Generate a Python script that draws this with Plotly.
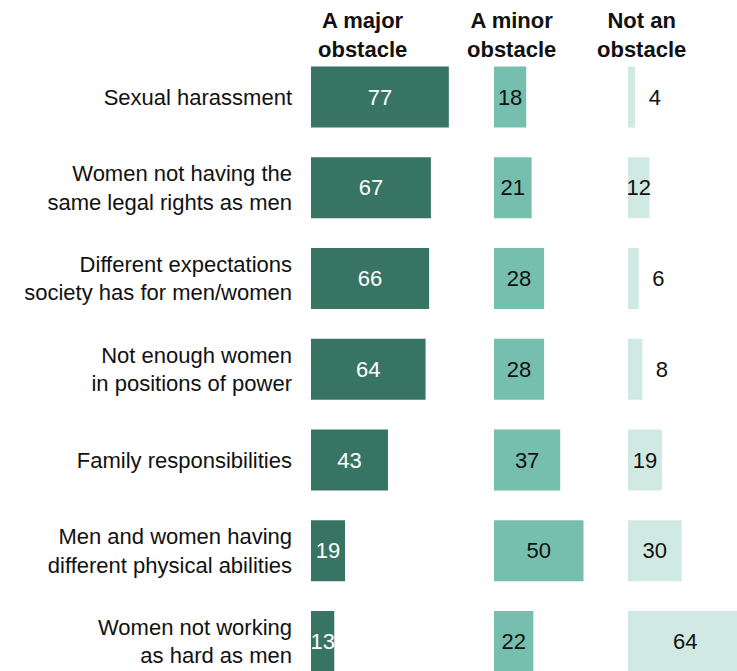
import plotly.graph_objects as go

# ── data ───────────────────────────────────────────────
categories = [
    "Sexual harassment",
    "Women not having the<br>same legal rights as men",
    "Different expectations<br>society has for men/women",
    "Not enough women<br>in positions of power",
    "Family responsibilities",
    "Men and women having<br>different physical abilities",
    "Women not working<br>as hard as men",
]
major = [77, 67, 66, 64, 43, 19, 13]
minor = [18, 21, 28, 28, 37, 50, 22]
not_obstacle = [4, 12, 6, 8, 19, 30, 64]
headers = ["A major<br>obstacle", "A minor<br>obstacle", "Not an<br>obstacle"]

# ── style ──────────────────────────────────────────────
W, H = 737, 671
FONT = "Liberation Sans, Arial, sans-serif"
PX_PER_UNIT = 1.79
col_start = [311, 494, 628]          # px where each column's bars start
col_end = [494, 628, 737]
colors = ["#387464", "#76bfae", "#d1e9e3"]
text_colors = ["white", "#111111", "#111111"]
header_x = [362, 512, 641]

fig = go.Figure()

series = [major, minor, not_obstacle]
for i, vals in enumerate(series):
    axis = "x" if i == 0 else f"x{i + 1}"
    positions = ["outside" if v < 10 else "inside" for v in vals]
    texts = [f"\u00a0\u2009{v}" if v < 10 else str(v) for v in vals]
    fig.add_trace(go.Bar(
        x=vals,
        y=categories,
        orientation="h",
        xaxis=axis,
        yaxis="y",
        marker=dict(color=colors[i], line=dict(width=0)),
        text=texts,
        textposition=positions,
        insidetextanchor="middle",
        constraintext="none",
        textfont=dict(family=FONT, size=22, color=text_colors[i]),
        outsidetextfont=dict(family=FONT, size=22, color="#111111"),
        hoverinfo="skip",
        showlegend=False,
    ))

# vertical placement: row 0 centred at y=97px, rows 90.75px apart
row0, step = 97, 90.75
y_top = -row0 / step
y_bottom = (H - row0) / step

axis_common = dict(showgrid=False, zeroline=False, showticklabels=False,
                   showline=False, ticks="", fixedrange=True)
for i in range(3):
    key = "xaxis" if i == 0 else f"xaxis{i + 1}"
    fig.layout[key] = dict(
        axis_common,
        domain=[col_start[i] / W, col_end[i] / W],
        range=[0, (col_end[i] - col_start[i]) / PX_PER_UNIT],
        anchor="y",
    )

fig.update_layout(
    width=W,
    height=H,
    margin=dict(l=0, r=0, t=0, b=0),
    paper_bgcolor="white",
    plot_bgcolor="white",
    bargap=0.328,
    yaxis=dict(
        type="category",
        categoryorder="array",
        categoryarray=categories,
        range=[y_bottom, y_top],
        showgrid=False,
        zeroline=False,
        showline=False,
        ticks="",
        automargin=False,
        ticklabelstandoff=18,
        tickfont=dict(family=FONT, size=22, color="#111111"),
        anchor="x",
        fixedrange=True,
    ),
)

for i, h in enumerate(headers):
    fig.add_annotation(
        x=header_x[i] / W, y=1 - 35 / H,
        xref="paper", yref="paper",
        text=f"<b>{h}</b>",
        showarrow=False,
        xanchor="center", yanchor="middle",
        align="center",
        font=dict(family=FONT, size=22, color="#111111"),
    )

# page body margin off so the figure sits in the window's corner
fig.write_html(
    "out.html",
    config={"displayModeBar": False},
    post_script="document.body.style.margin='0';document.body.style.overflow='hidden';",
)
